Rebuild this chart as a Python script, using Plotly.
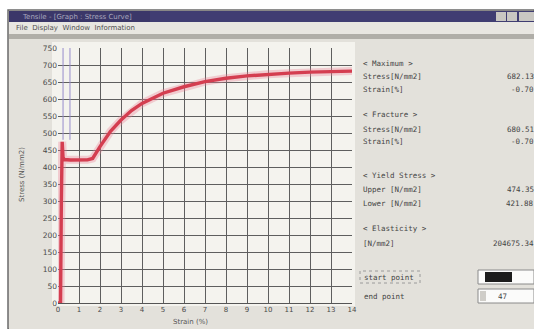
import plotly.graph_objects as go

# Tensile test: engineering stress-strain curve
strain_pct = [0.00, 0.12, 0.16, 0.20, 0.24, 0.30, 0.60, 1.00, 1.40, 1.65,
              2.00, 2.50, 3.00, 3.50, 4.00, 5.00, 6.00, 7.00, 8.00, 9.00,
              10.00, 11.00, 12.00, 13.00, 14.00]
stress_nmm2 = [0.0, 0.0, 300.0, 474.35, 428.0, 421.88, 420.5, 420.0, 421.0, 425.0,
               460.0, 505.0, 538.0, 566.0, 587.0, 617.0, 636.0, 651.0, 661.0, 668.0,
               673.0, 676.0, 679.0, 681.0, 682.13]

# cursor markers (start / end point)
marker_strain = [0.24, 0.57]

y_ticks = list(range(0, 751, 50))
x_ticks = list(range(0, 15))

result_rows = [
    ("< Maximum >", ""),
    ("Stress[N/mm2]", "682.13"),
    ("Strain[%]", "-0.70"),
    ("< Fracture >", ""),
    ("Stress[N/mm2]", "680.51"),
    ("Strain[%]", "-0.70"),
    ("< Yield Stress >", ""),
    ("Upper [N/mm2]", "474.35"),
    ("Lower [N/mm2]", "421.88"),
    ("< Elasticity >", ""),
    ("[N/mm2]", "204675.34"),
]
row_y = [63, 76, 89, 115, 129, 141, 175, 189, 203, 229, 243]

W, H = 534, 329
L, R, T, B = 58, 352, 48, 303


def px(x):
    return (x - L) / (R - L)


def py(y):
    return (B - y) / (B - T)


fig = go.Figure()

# soft halo under the curve
fig.add_trace(go.Scatter(x=strain_pct, y=stress_nmm2, mode="lines",
                         line=dict(color="rgba(235,130,150,0.35)", width=8),
                         hoverinfo="skip", showlegend=False))
fig.add_trace(go.Scatter(x=strain_pct, y=stress_nmm2, mode="lines",
                         line=dict(color="#d43e50", width=3.4),
                         showlegend=False))

shapes = []


def rect(x0, y0, x1, y1, fill, line=None, layer="below"):
    shapes.append(dict(type="rect", xref="paper", yref="paper",
                       x0=px(x0), x1=px(x1), y0=py(y1), y1=py(y0),
                       fillcolor=fill, layer=layer,
                       line=dict(width=0) if line is None else line))


# window frame
rect(8, 10, 534, 329, "#e5e3dd", dict(color="#6a6a6a", width=1.5))
rect(9, 11, 534, 22, "#3b3769")
rect(150, 11, 534, 22, "#403d72")
rect(496, 12, 506, 21, "#c9c7c2")
rect(507, 12, 517, 21, "#c9c7c2")
rect(519, 12, 534, 21, "#c9c7c2")
rect(9, 22, 534, 34, "#e8e6e1")
rect(9, 34, 534, 39, "#b0aea8")
rect(9, 39, 534, 329, "#e3e1db")
rect(52, 42, 355, 306, "#f4f3ee")

# cursor lines
for s in marker_strain:
    shapes.append(dict(type="line", xref="x", yref="y", x0=s, x1=s, y0=480, y1=750,
                       line=dict(color="#978ccc", width=1), layer="above"))

# input boxes on the right panel
rect(360, 271, 420, 283, "rgba(0,0,0,0)", dict(color="#9a9a9a", width=1, dash="dot"), "above")
rect(478, 270, 534, 284, "#fbfbfa", dict(color="#8a8a8a", width=1), "above")
rect(485, 272, 512, 282, "#1c1c1c", None, "above")
rect(478, 289, 534, 303, "#fbfbfa", dict(color="#8a8a8a", width=1), "above")
rect(480, 291, 486, 301, "#cfcdc8", None, "above")

annotations = []


def text(x, y, s, size=8, color="#444444", anchor="left", family="DejaVu Sans Mono", angle=0):
    annotations.append(dict(xref="paper", yref="paper", x=px(x), y=py(y), text=s,
                            showarrow=False, xanchor=anchor, yanchor="middle",
                            textangle=angle,
                            font=dict(size=size, color=color, family=family)))


text(20, 16.5, "Tensile - [Graph : Stress Curve]", size=7, color="#a9a7bd", family="DejaVu Sans")
text(14, 28, "File  Display  Window  Information", size=7, color="#505050", family="DejaVu Sans")

for (lab, val), yy in zip(result_rows, row_y):
    text(361, yy, lab, size=7.5)
    if val:
        text(536, yy, val, size=7.5, anchor="right")

text(362, 277, "start point", size=7.5)
text(362, 296, "end point", size=7.5)
text(496, 296, "47", size=7.5)

text(22, 175, "Stress (N/mm2)", size=7, color="#555555", family="DejaVu Sans", anchor="center", angle=-90)
text(190, 322, "Strain (%)", size=7, color="#555555", family="DejaVu Sans", anchor="center")

fig.update_layout(
    width=W, height=H,
    margin=dict(l=L, r=W - R, t=T, b=H - B),
    paper_bgcolor="#ffffff",
    plot_bgcolor="#f6f5f1",
    shapes=shapes,
    annotations=annotations,
    showlegend=False,
)
fig.update_xaxes(range=[0, 14], tickvals=x_ticks, showgrid=True, gridcolor="#5e5e5e", gridwidth=1,
                 zeroline=False, showline=True, linecolor="#555555", ticks="",
                 tickfont=dict(size=7, color="#4a4a4a", family="DejaVu Sans"))
fig.update_yaxes(range=[0, 750], tickvals=y_ticks, showgrid=True, gridcolor="#5e5e5e", gridwidth=1,
                 zeroline=False, showline=False, ticks="",
                 tickfont=dict(size=7.5, color="#4a4a4a", family="DejaVu Sans"))

fig.write_html("out.html")
